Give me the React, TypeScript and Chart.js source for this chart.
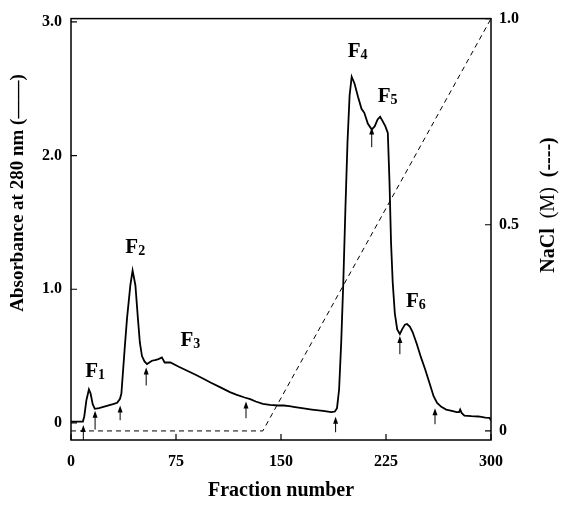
import React, { useEffect, useRef } from "react";
import { Chart, registerables } from "chart.js";

Chart.register(...registerables);

// ---- data ----
const fractionNumber = [
  0, 8.5, 9.5, 11, 12.8, 14, 15.5, 17, 20, 25, 30, 33, 35, 36, 38.3, 40, 42.4, 44, 46, 47.8,
  49.2, 50.7, 52.5, 54.3, 57.8, 60, 62.5, 64.9, 66.9, 71, 77, 83, 89, 94.6, 100, 106.4, 113.5,
  118, 124, 128, 132, 137, 142, 148, 152, 156, 160, 165, 172, 180, 186, 188.5, 190, 191.5, 193,
  194.5, 196, 197.5, 199, 200.5, 202.5, 205, 207.5, 209.5, 212, 214.8, 217, 219, 220.8, 222.5,
  224.5, 226.3, 227.5, 228.6, 229.8, 231.3, 233, 234.9, 236.5, 238.5, 240, 242, 244, 247, 250,
  253, 256, 259, 261.5, 264.5, 268, 272, 275.5, 277.2, 278, 279, 281, 286, 291, 296, 299, 300,
];
const absorbance = [
  0.01, 0.01, 0.05, 0.17, 0.25, 0.22, 0.14, 0.105, 0.11, 0.125, 0.14, 0.15, 0.18, 0.22, 0.55,
  0.78, 1.03, 1.14, 1.03, 0.78, 0.6, 0.5, 0.46, 0.44, 0.465, 0.47, 0.477, 0.49, 0.452, 0.452,
  0.42, 0.39, 0.36, 0.33, 0.3, 0.268, 0.23, 0.212, 0.19, 0.178, 0.16, 0.142, 0.135, 0.13, 0.13,
  0.125, 0.118, 0.11, 0.1, 0.09, 0.08, 0.085, 0.11, 0.25, 0.6, 1.05, 1.6, 2.1, 2.45, 2.59, 2.54,
  2.44, 2.35, 2.32, 2.24, 2.195, 2.22, 2.27, 2.29, 2.26, 2.22, 2.17, 1.8, 1.35, 1.05, 0.82, 0.7,
  0.665, 0.7, 0.735, 0.74, 0.72, 0.68, 0.59, 0.49, 0.4, 0.3, 0.2, 0.15, 0.12, 0.1, 0.09, 0.08,
  0.08, 0.1, 0.075, 0.055, 0.05, 0.048, 0.04, 0.038, 0.017,
];
const naclFraction = [0, 137, 300];
const naclMolarity = [0, 0, 1.0];

const arrowFraction = [8.8, 17.2, 35.1, 53.7, 125, 189, 214.8, 234.9, 260];
const arrowFrom = [-0.128, -0.05, 0.02, 0.28, 0.035, -0.07, 2.063, 0.514, -0.01];
const arrowTo = [-0.015, 0.09, 0.13, 0.415, 0.16, 0.046, 2.21, 0.65, 0.11];

const peakIndex = ["1", "2", "3", "4", "5", "6"];
const peakFraction = [10.2, 38.8, 78.2, 197.7, 219.1, 239.2];
const peakAbsorbance = [0.34, 1.27, 0.575, 2.74, 2.4, 0.865];

const xTicks = [0, 75, 150, 225, 300];
const leftTicks = [0, 1, 2, 3];
const rightTicks = [0, 0.5, 1];

const xTitle = "Fraction number";
const leftTitle = "Absorbance at 280 nm (——)";
const rightTitleParts = [
  { text: "NaCl", weight: "bold" },
  { text: "  (M)  ", weight: "normal" },
  { text: "(----)", weight: "bold" },
];

const SERIF = '"Liberation Serif", "Times New Roman", serif';

const decorPlugin = {
  id: "decor",
  afterDraw(chart: any) {
    const { ctx, chartArea } = chart;
    const { left, right, top, bottom } = chartArea;
    const xs = chart.scales.x;
    const ys = chart.scales.y;
    const ys1 = chart.scales.y1;
    ctx.save();
    ctx.strokeStyle = "#000";
    ctx.fillStyle = "#000";
    // frame
    ctx.lineWidth = 1.5;
    ctx.strokeRect(left, top, right - left, bottom - top);
    // inner tick marks
    ctx.lineWidth = 1.2;
    ctx.beginPath();
    xTicks.forEach((v) => {
      const px = xs.getPixelForValue(v);
      ctx.moveTo(px, bottom);
      ctx.lineTo(px, bottom - 6);
    });
    leftTicks.forEach((v) => {
      const py = ys.getPixelForValue(v);
      ctx.moveTo(left, py);
      ctx.lineTo(left + 6, py);
    });
    rightTicks.forEach((v) => {
      const py = ys1.getPixelForValue(v);
      ctx.moveTo(right, py);
      ctx.lineTo(right - 6, py);
    });
    ctx.stroke();
    // arrows
    ctx.lineWidth = 1;
    arrowFraction.forEach((f, i) => {
      const px = xs.getPixelForValue(f);
      const y0 = Math.min(ys.getPixelForValue(arrowFrom[i]), bottom);
      const y1 = ys.getPixelForValue(arrowTo[i]);
      ctx.beginPath();
      ctx.moveTo(px, y0);
      ctx.lineTo(px, y1 + 5);
      ctx.stroke();
      ctx.beginPath();
      ctx.moveTo(px, y1);
      ctx.lineTo(px - 2.5, y1 + 7);
      ctx.lineTo(px + 2.5, y1 + 7);
      ctx.closePath();
      ctx.fill();
    });
    // peak labels
    ctx.textAlign = "left";
    ctx.textBaseline = "alphabetic";
    peakIndex.forEach((s, i) => {
      const px = xs.getPixelForValue(peakFraction[i]);
      const py = ys.getPixelForValue(peakAbsorbance[i]);
      ctx.font = `bold 21px ${SERIF}`;
      ctx.fillText("F", px, py);
      const w = ctx.measureText("F").width;
      ctx.font = `bold 14px ${SERIF}`;
      ctx.fillText(s, px + w, py + 2);
    });
    // left title
    ctx.save();
    ctx.translate(18, 193);
    ctx.rotate(-Math.PI / 2);
    ctx.textAlign = "center";
    ctx.textBaseline = "middle";
    ctx.font = `bold 19px ${SERIF}`;
    ctx.fillText(leftTitle, 0, 0);
    ctx.restore();
    // right title
    ctx.save();
    ctx.translate(549, 205);
    ctx.rotate(-Math.PI / 2);
    ctx.textBaseline = "middle";
    ctx.textAlign = "left";
    let total = 0;
    const widths = rightTitleParts.map((p) => {
      ctx.font = `${p.weight} 20px ${SERIF}`;
      const w = ctx.measureText(p.text).width;
      total += w;
      return w;
    });
    let cx = -total / 2;
    rightTitleParts.forEach((p, i) => {
      ctx.font = `${p.weight} 20px ${SERIF}`;
      ctx.fillText(p.text, cx, 0);
      cx += widths[i];
    });
    ctx.restore();
    ctx.restore();
  },
};

export default function App() {
  const canvasRef = useRef<HTMLCanvasElement | null>(null);
  useEffect(() => {
    if (!canvasRef.current) return;
    const tickFont = { family: SERIF, size: 16, weight: "bold" as const };
    const chart = new Chart(canvasRef.current, {
      type: "line",
      data: {
        datasets: [
          {
            label: "Absorbance",
            data: fractionNumber.map((x, i) => ({ x, y: absorbance[i] })),
            borderColor: "#000",
            borderWidth: 1.8,
            pointRadius: 0,
            tension: 0,
            yAxisID: "y",
          },
          {
            label: "NaCl",
            data: naclFraction.map((x, i) => ({ x, y: naclMolarity[i] })),
            borderColor: "#000",
            borderWidth: 1,
            borderDash: [5, 4],
            pointRadius: 0,
            tension: 0,
            yAxisID: "y1",
          },
        ],
      },
      options: {
        animation: false,
        responsive: false,
        devicePixelRatio: 1,
        layout: { padding: { top: 13, left: 0, right: 0, bottom: 0 } },
        plugins: { legend: { display: false }, tooltip: { enabled: false } },
        scales: {
          x: {
            type: "linear",
            min: 0,
            max: 300,
            afterBuildTicks: (s: any) => {
              s.ticks = xTicks.map((v) => ({ value: v }));
            },
            afterFit: (s: any) => {
              s.height = 65;
            },
            grid: { display: false, drawTicks: false },
            border: { display: false },
            ticks: { color: "#000", font: tickFont, padding: 12, maxRotation: 0, autoSkip: false },
            title: {
              display: true,
              text: xTitle,
              color: "#000",
              font: { family: SERIF, size: 20, weight: "bold" },
              padding: { top: 0, bottom: 2 },
            },
          },
          y: {
            type: "linear",
            position: "left",
            min: -0.128,
            max: 3.025,
            afterBuildTicks: (s: any) => {
              s.ticks = leftTicks.map((v) => ({ value: v }));
            },
            afterFit: (s: any) => {
              s.width = 71;
            },
            grid: { display: false, drawTicks: false },
            border: { display: false },
            ticks: {
              color: "#000",
              font: tickFont,
              padding: 9,
              callback: (v: any) => (v === 0 ? "0" : Number(v).toFixed(1)),
            },
          },
          y1: {
            type: "linear",
            position: "right",
            min: -0.022,
            max: 1.0,
            afterBuildTicks: (s: any) => {
              s.ticks = rightTicks.map((v) => ({ value: v }));
            },
            afterFit: (s: any) => {
              s.width = 72;
            },
            grid: { display: false, drawTicks: false },
            border: { display: false },
            ticks: {
              color: "#000",
              font: tickFont,
              padding: 8,
              callback: (v: any) => (v === 0 ? "0" : Number(v).toFixed(1)),
            },
          },
        },
      },
      plugins: [decorPlugin],
    });
    return () => chart.destroy();
  }, []);
  return (
    <div style={{ position: "absolute", left: 0, top: 0, width: 563, height: 505, background: "#fff" }}>
      <canvas ref={canvasRef} width={563} height={505} style={{ display: "block" }} />
    </div>
  );
}
